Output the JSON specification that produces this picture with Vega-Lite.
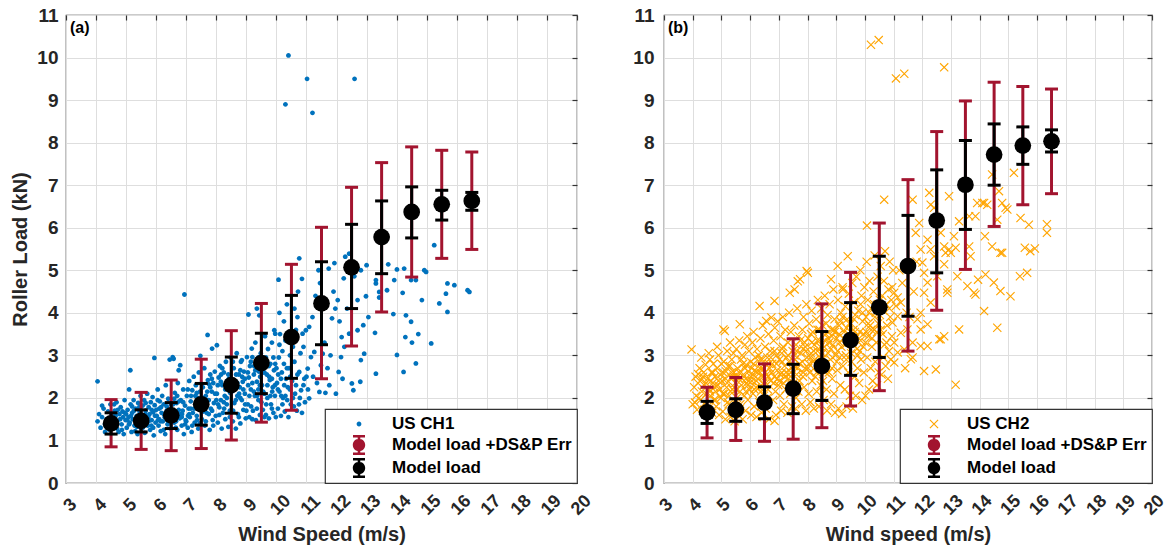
{
 "$schema": "https://vega.github.io/schema/vega-lite/v6.json",
 "background": "white",
 "padding": {"left": 10, "top": 5, "right": 6, "bottom": 2},
 "config": {
  "font": "Liberation Sans",
  "view": {"stroke": "#333333", "strokeWidth": 1.2},
  "axis": {"labelFont": "Liberation Sans", "labelFontWeight": "bold", "labelColor": "#262626", "titleFont": "Liberation Sans", "titleFontWeight": "bold", "titleColor": "#262626", "titleFontSize": 20, "gridColor": "#dedede", "gridWidth": 1, "domain": false, "labelFlush": false, "labelOverlap": false, "tickColor": "#333333", "tickWidth": 1.2},
  "legend": {"orient": "bottom-right", "offset": 0, "padding": 5, "strokeColor": "#333333", "strokeWidth": 1.2, "fillColor": "white", "labelFont": "Liberation Sans", "labelFontWeight": "bold", "labelFontSize": 17, "labelColor": "#000000", "labelLimit": 400, "symbolSize": 400, "symbolOffset": 19, "labelOffset": 23, "rowPadding": 3, "symbolStrokeWidth": 0}
 },
 "spacing": 87,
 "bounds": "flush",
 "resolve": {"scale": {"x": "independent", "y": "independent", "color": "independent", "shape": "independent"}, "legend": {"color": "independent", "shape": "independent"}},
 "datasets": {
  "modelA": [
   {"x":4.5,"m":1.40,"lo":0.85,"hi":1.96,"blo":1.15,"bhi":1.65},
   {"x":5.5,"m":1.46,"lo":0.79,"hi":2.13,"blo":1.20,"bhi":1.72},
   {"x":6.5,"m":1.59,"lo":0.76,"hi":2.42,"blo":1.28,"bhi":1.89},
   {"x":7.5,"m":1.85,"lo":0.81,"hi":2.91,"blo":1.36,"bhi":2.34},
   {"x":8.5,"m":2.30,"lo":1.01,"hi":3.58,"blo":1.64,"bhi":2.96},
   {"x":9.5,"m":2.82,"lo":1.43,"hi":4.22,"blo":2.10,"bhi":3.52},
   {"x":10.5,"m":3.43,"lo":1.71,"hi":5.14,"blo":2.46,"bhi":4.41},
   {"x":11.5,"m":4.22,"lo":2.45,"hi":6.01,"blo":3.25,"bhi":5.20},
   {"x":12.5,"m":5.07,"lo":3.22,"hi":6.95,"blo":4.10,"bhi":6.08},
   {"x":13.5,"m":5.78,"lo":4.02,"hi":7.53,"blo":4.92,"bhi":6.63},
   {"x":14.5,"m":6.37,"lo":4.84,"hi":7.90,"blo":5.76,"bhi":6.96},
   {"x":15.5,"m":6.55,"lo":5.28,"hi":7.82,"blo":6.18,"bhi":6.88},
   {"x":16.5,"m":6.63,"lo":5.49,"hi":7.78,"blo":6.41,"bhi":6.83}
  ],
  "modelB": [
   {"x":4.5,"m":1.66,"lo":1.06,"hi":2.25,"blo":1.40,"bhi":1.92},
   {"x":5.5,"m":1.72,"lo":1.00,"hi":2.48,"blo":1.45,"bhi":1.98},
   {"x":6.5,"m":1.89,"lo":0.98,"hi":2.80,"blo":1.51,"bhi":2.26},
   {"x":7.5,"m":2.22,"lo":1.03,"hi":3.39,"blo":1.63,"bhi":2.79},
   {"x":8.5,"m":2.75,"lo":1.30,"hi":4.21,"blo":1.94,"bhi":3.56},
   {"x":9.5,"m":3.36,"lo":1.81,"hi":4.95,"blo":2.53,"bhi":4.24},
   {"x":10.5,"m":4.13,"lo":2.17,"hi":6.11,"blo":2.95,"bhi":5.33},
   {"x":11.5,"m":5.10,"lo":3.10,"hi":7.13,"blo":3.92,"bhi":6.29},
   {"x":12.5,"m":6.17,"lo":4.06,"hi":8.26,"blo":4.94,"bhi":7.36},
   {"x":13.5,"m":7.01,"lo":5.02,"hi":8.98,"blo":5.96,"bhi":8.05},
   {"x":14.5,"m":7.72,"lo":6.03,"hi":9.42,"blo":7.00,"bhi":8.44},
   {"x":15.5,"m":7.93,"lo":6.54,"hi":9.32,"blo":7.49,"bhi":8.37},
   {"x":16.5,"m":8.03,"lo":6.80,"hi":9.26,"blo":7.78,"bhi":8.30}
  ],
  "scatterA": [
   {"x":4.05,"y":2.39},{"x":4.05,"y":1.45},{"x":4.1,"y":1.62},{"x":4.15,"y":1.3},{"x":4.2,"y":1.55},{"x":4.25,"y":1.75},{"x":4.3,"y":1.38},{"x":4.35,"y":1.5},{"x":4.4,"y":1.68},{"x":4.45,"y":1.25},{"x":4.48,"y":1.85},{"x":4.3,"y":1.2},{"x":4.2,"y":1.82},
   {"x":4.55,"y":1.52},{"x":4.6,"y":1.33},{"x":4.62,"y":1.7},{"x":4.68,"y":1.9},{"x":4.7,"y":1.45},{"x":4.75,"y":1.2},{"x":4.78,"y":1.62},{"x":4.82,"y":1.78},{"x":4.85,"y":1.38},{"x":4.9,"y":1.55},{"x":4.92,"y":1.15},{"x":4.95,"y":1.95},{"x":4.98,"y":1.48},{"x":4.88,"y":1.68},{"x":4.65,"y":1.58},
   {"x":5.02,"y":1.3},{"x":5.05,"y":1.72},{"x":5.08,"y":1.55},{"x":5.1,"y":2.2},{"x":5.12,"y":1.42},{"x":5.14,"y":2.65},{"x":5.15,"y":1.85},{"x":5.18,"y":1.2},{"x":5.2,"y":1.65},{"x":5.22,"y":1.5},{"x":5.25,"y":1.95},{"x":5.28,"y":1.35},{"x":5.32,"y":1.75},{"x":5.35,"y":1.58},{"x":5.38,"y":1.15},{"x":5.4,"y":1.88},{"x":5.42,"y":1.45},{"x":5.45,"y":1.68},{"x":5.48,"y":2.05},{"x":5.5,"y":1.28},
   {"x":5.52,"y":1.6},{"x":5.55,"y":1.82},{"x":5.58,"y":1.4},{"x":5.6,"y":1.95},{"x":5.62,"y":1.18},{"x":5.65,"y":1.7},{"x":5.68,"y":1.52},{"x":5.7,"y":2.1},{"x":5.72,"y":1.35},{"x":5.75,"y":1.78},{"x":5.78,"y":1.62},{"x":5.8,"y":1.25},{"x":5.82,"y":1.9},{"x":5.85,"y":1.48},{"x":5.88,"y":2.02},{"x":5.9,"y":1.66},{"x":5.92,"y":1.12},{"x":5.94,"y":2.94},{"x":5.95,"y":1.83},{"x":5.98,"y":1.42},{"x":5.6,"y":1.55},{"x":5.85,"y":1.72},
   {"x":6.02,"y":1.58},{"x":6.05,"y":2.2},{"x":6.08,"y":1.35},{"x":6.1,"y":1.75},{"x":6.12,"y":1.92},{"x":6.15,"y":1.22},{"x":6.18,"y":1.65},{"x":6.2,"y":2.05},{"x":6.22,"y":1.45},{"x":6.25,"y":1.85},{"x":6.28,"y":1.55},{"x":6.3,"y":1.15},{"x":6.32,"y":2.3},{"x":6.35,"y":1.7},{"x":6.38,"y":1.38},{"x":6.4,"y":1.98},{"x":6.42,"y":1.6},{"x":6.45,"y":2.9},{"x":6.48,"y":1.28},{"x":6.1,"y":1.5},{"x":6.35,"y":1.8},
   {"x":6.52,"y":1.72},{"x":6.55,"y":2.96},{"x":6.58,"y":2.92},{"x":6.6,"y":1.42},{"x":6.62,"y":2.12},{"x":6.65,"y":1.6},{"x":6.68,"y":1.88},{"x":6.7,"y":1.25},{"x":6.72,"y":2.35},{"x":6.75,"y":2.65},{"x":6.78,"y":1.52},{"x":6.8,"y":2.77},{"x":6.82,"y":1.95},{"x":6.85,"y":1.35},{"x":6.88,"y":1.7},{"x":6.9,"y":2.2},{"x":6.92,"y":1.15},{"x":6.94,"y":4.43},{"x":6.96,"y":1.82},{"x":6.98,"y":1.48},{"x":6.6,"y":1.98},{"x":6.8,"y":1.62},
   {"x":7.02,"y":2.05},{"x":7.05,"y":1.3},{"x":7.08,"y":1.75},{"x":7.1,"y":2.4},{"x":7.12,"y":1.55},{"x":7.15,"y":1.92},{"x":7.18,"y":1.2},{"x":7.2,"y":2.18},{"x":7.22,"y":1.65},{"x":7.25,"y":2.5},{"x":7.28,"y":1.42},{"x":7.3,"y":1.85},{"x":7.32,"y":2.3},{"x":7.35,"y":1.58},{"x":7.38,"y":2.0},{"x":7.4,"y":1.28},{"x":7.42,"y":2.6},{"x":7.45,"y":1.72},{"x":7.47,"y":2.99},{"x":7.48,"y":1.9},{"x":7.1,"y":1.62},{"x":7.35,"y":2.12},
   {"x":7.52,"y":1.5},{"x":7.55,"y":2.25},{"x":7.58,"y":1.82},{"x":7.6,"y":2.7},{"x":7.62,"y":1.35},{"x":7.65,"y":2.05},{"x":7.68,"y":1.65},{"x":7.71,"y":3.48},{"x":7.72,"y":2.42},{"x":7.75,"y":1.95},{"x":7.78,"y":1.25},{"x":7.8,"y":2.55},{"x":7.82,"y":1.75},{"x":7.85,"y":2.15},{"x":7.86,"y":3.16},{"x":7.88,"y":1.48},{"x":7.9,"y":2.35},{"x":7.92,"y":1.88},{"x":7.95,"y":2.62},{"x":7.98,"y":1.58},{"x":7.6,"y":2.0},{"x":7.8,"y":2.25},
   {"x":8.02,"y":3.24},{"x":8.02,"y":2.1},{"x":8.05,"y":1.42},{"x":8.08,"y":2.48},{"x":8.1,"y":1.78},{"x":8.12,"y":2.75},{"x":8.15,"y":1.95},{"x":8.18,"y":1.28},{"x":8.2,"y":2.3},{"x":8.22,"y":1.65},{"x":8.25,"y":2.6},{"x":8.28,"y":2.05},{"x":8.3,"y":1.5},{"x":8.32,"y":2.85},{"x":8.35,"y":1.85},{"x":8.38,"y":2.22},{"x":8.4,"y":1.32},{"x":8.42,"y":2.45},{"x":8.45,"y":1.7},{"x":8.48,"y":2.95},{"x":8.15,"y":2.38},{"x":8.35,"y":2.0},
   {"x":8.52,"y":2.15},{"x":8.55,"y":1.45},{"x":8.58,"y":2.7},{"x":8.6,"y":1.88},{"x":8.62,"y":2.4},{"x":8.65,"y":1.28},{"x":8.68,"y":3.05},{"x":8.7,"y":2.05},{"x":8.72,"y":1.62},{"x":8.75,"y":2.55},{"x":8.78,"y":2.25},{"x":8.8,"y":1.4},{"x":8.82,"y":2.85},{"x":8.85,"y":1.95},{"x":8.85,"y":2.89},{"x":8.88,"y":2.38},{"x":8.9,"y":1.72},{"x":8.92,"y":2.62},{"x":8.95,"y":2.1},{"x":8.98,"y":1.52},{"x":8.6,"y":2.2},{"x":8.8,"y":2.0},
   {"x":9.02,"y":2.96},{"x":9.05,"y":1.85},{"x":9.07,"y":3.96},{"x":9.08,"y":2.48},{"x":9.1,"y":1.55},{"x":9.12,"y":2.75},{"x":9.15,"y":2.2},{"x":9.18,"y":3.16},{"x":9.2,"y":2.96},{"x":9.22,"y":1.7},{"x":9.25,"y":2.55},{"x":9.28,"y":2.05},{"x":9.3,"y":3.3},{"x":9.32,"y":1.48},{"x":9.35,"y":2.38},{"x":9.35,"y":4.1},{"x":9.38,"y":2.85},{"x":9.4,"y":1.95},{"x":9.42,"y":2.62},{"x":9.43,"y":3.94},{"x":9.45,"y":1.6},{"x":9.48,"y":3.05},{"x":9.2,"y":2.35},{"x":9.4,"y":2.2},
   {"x":9.52,"y":2.3},{"x":9.55,"y":1.72},{"x":9.58,"y":2.9},{"x":9.6,"y":2.1},{"x":9.62,"y":3.45},{"x":9.65,"y":1.6},{"x":9.68,"y":2.55},{"x":9.7,"y":2.0},{"x":9.72,"y":3.15},{"x":9.75,"y":1.52},{"x":9.78,"y":2.42},{"x":9.8,"y":2.8},{"x":9.82,"y":1.85},{"x":9.85,"y":3.3},{"x":9.88,"y":2.25},{"x":9.9,"y":1.65},{"x":9.92,"y":2.65},{"x":9.93,"y":3.59},{"x":9.95,"y":2.05},{"x":9.96,"y":3.51},{"x":9.98,"y":1.55},{"x":9.6,"y":2.6},{"x":9.85,"y":2.45},
   {"x":10.02,"y":2.35},{"x":10.05,"y":1.75},{"x":10.07,"y":4.78},{"x":10.08,"y":2.95},{"x":10.1,"y":2.15},{"x":10.12,"y":3.5},{"x":10.15,"y":1.58},{"x":10.18,"y":2.6},{"x":10.2,"y":3.1},{"x":10.22,"y":2.0},{"x":10.25,"y":2.8},{"x":10.28,"y":1.68},{"x":10.3,"y":3.35},{"x":10.3,"y":8.9},{"x":10.32,"y":2.45},{"x":10.35,"y":4.2},{"x":10.38,"y":2.25},{"x":10.4,"y":10.05},{"x":10.4,"y":1.55},{"x":10.42,"y":2.7},{"x":10.45,"y":3.0},{"x":10.48,"y":1.85},{"x":10.1,"y":4.0},{"x":10.25,"y":3.8},
   {"x":10.52,"y":2.4},{"x":10.55,"y":3.2},{"x":10.58,"y":1.8},{"x":10.6,"y":2.85},{"x":10.62,"y":2.1},{"x":10.65,"y":3.6},{"x":10.68,"y":1.7},{"x":10.7,"y":2.55},{"x":10.72,"y":4.5},{"x":10.76,"y":5.28},{"x":10.76,"y":2.61},{"x":10.78,"y":2.0},{"x":10.8,"y":3.05},{"x":10.82,"y":2.18},{"x":10.85,"y":1.65},{"x":10.87,"y":3.51},{"x":10.9,"y":2.3},{"x":10.93,"y":2.45},{"x":10.95,"y":1.9},{"x":10.98,"y":3.59},{"x":10.6,"y":4.1},{"x":10.85,"y":4.8},
   {"x":11.02,"y":9.5},{"x":11.04,"y":2.69},{"x":11.05,"y":2.2},{"x":11.09,"y":3.67},{"x":11.09,"y":1.99},{"x":11.15,"y":2.96},{"x":11.2,"y":8.7},{"x":11.22,"y":2.5},{"x":11.26,"y":3.08},{"x":11.3,"y":4.4},{"x":11.35,"y":2.35},{"x":11.4,"y":5.0},{"x":11.43,"y":2.14},{"x":11.48,"y":2.77},{"x":11.54,"y":3.04},{"x":11.2,"y":3.9},{"x":11.45,"y":4.7},
   {"x":11.63,"y":2.12},{"x":11.74,"y":5.04},{"x":11.76,"y":2.3},{"x":11.85,"y":3.87},{"x":11.93,"y":5.17},{"x":11.96,"y":4.1},{"x":11.98,"y":2.1},{"x":11.6,"y":3.3},{"x":11.7,"y":2.7},{"x":11.9,"y":4.5},{"x":11.8,"y":3.0},
   {"x":12.04,"y":4.3},{"x":12.07,"y":2.61},{"x":12.15,"y":2.96},{"x":12.17,"y":3.43},{"x":12.2,"y":2.45},{"x":12.24,"y":4.81},{"x":12.26,"y":3.2},{"x":12.29,"y":5.32},{"x":12.42,"y":3.51},{"x":12.42,"y":5.39},{"x":12.35,"y":4.1},{"x":12.1,"y":3.8},
   {"x":12.51,"y":2.34},{"x":12.56,"y":2.18},{"x":12.59,"y":4.86},{"x":12.6,"y":9.5},{"x":12.7,"y":3.59},{"x":12.79,"y":2.38},{"x":12.81,"y":5.0},{"x":12.81,"y":2.89},{"x":12.89,"y":3.71},{"x":12.92,"y":3.04},{"x":12.98,"y":4.39},{"x":13.0,"y":5.12},{"x":12.7,"y":4.3},
   {"x":13.06,"y":3.9},{"x":13.28,"y":3.53},{"x":13.31,"y":4.77},{"x":13.31,"y":4.69},{"x":13.31,"y":2.57},{"x":13.42,"y":4.49},{"x":13.42,"y":4.36},{"x":13.68,"y":4.53},{"x":13.72,"y":5.14},{"x":13.89,"y":3.97},{"x":13.92,"y":4.77},
   {"x":14.01,"y":5.02},{"x":14.01,"y":3.01},{"x":14.2,"y":4.47},{"x":14.23,"y":2.61},{"x":14.25,"y":5.04},{"x":14.29,"y":3.43},{"x":14.31,"y":3.94},{"x":14.48,"y":4.77},{"x":14.48,"y":3.79},{"x":14.51,"y":3.3},{"x":14.64,"y":4.77},{"x":14.64,"y":2.81},{"x":14.72,"y":3.5},{"x":14.84,"y":4.3},{"x":14.92,"y":5.0},{"x":14.98,"y":4.96},
   {"x":15.15,"y":3.28},{"x":15.25,"y":5.59},{"x":15.42,"y":4.22},{"x":15.64,"y":4.45},{"x":15.69,"y":4.69},{"x":15.69,"y":4.02},{"x":15.92,"y":4.65},{"x":16.36,"y":4.53},{"x":16.42,"y":4.49},
   {"x":4.4,"y":1.4},{"x":4.6,"y":1.85},{"x":4.7,"y":1.28},{"x":4.8,"y":1.5},{"x":5.0,"y":1.62},{"x":5.1,"y":1.38},{"x":5.2,"y":1.8},{"x":5.3,"y":1.22},{"x":5.45,"y":1.55},{"x":5.55,"y":1.3},{"x":5.65,"y":1.88},{"x":5.75,"y":1.45},{"x":5.9,"y":1.3},{"x":6.0,"y":1.72},{"x":6.05,"y":1.95},{"x":6.15,"y":1.45},{"x":6.25,"y":1.25},{"x":6.3,"y":1.62},{"x":6.4,"y":1.4},{"x":6.5,"y":1.85},{"x":6.55,"y":1.55},{"x":6.65,"y":1.3},{"x":6.7,"y":2.05},{"x":6.75,"y":1.72},{"x":6.85,"y":1.55},{"x":6.9,"y":1.9},{"x":7.0,"y":1.45},{"x":7.05,"y":2.2},{"x":7.15,"y":1.75},{"x":7.2,"y":1.35},{"x":7.3,"y":2.05},{"x":7.4,"y":1.8},{"x":7.45,"y":1.4},{"x":7.55,"y":1.95},{"x":7.65,"y":1.45},{"x":7.7,"y":2.15},{"x":7.75,"y":1.62},{"x":7.85,"y":2.45},{"x":7.9,"y":1.35},{"x":8.0,"y":1.95},{"x":8.05,"y":2.3},{"x":8.1,"y":1.6},{"x":8.2,"y":2.7},{"x":8.25,"y":1.9},{"x":8.3,"y":2.2},{"x":8.4,"y":2.55},{"x":8.45,"y":1.55},{"x":8.5,"y":2.3},{"x":8.55,"y":2.85},{"x":8.65,"y":1.95},{"x":8.7,"y":2.35},{"x":8.75,"y":1.55},{"x":8.8,"y":2.65},{"x":8.9,"y":2.2},{"x":8.95,"y":2.45},{"x":9.0,"y":1.7},{"x":9.05,"y":2.6},{"x":9.1,"y":2.05},{"x":9.15,"y":2.85},{"x":9.2,"y":1.5},{"x":9.25,"y":2.15},{"x":9.3,"y":2.65},{"x":9.35,"y":1.75},{"x":9.4,"y":2.95},{"x":9.45,"y":2.3},{"x":9.5,"y":1.9},{"x":9.55,"y":2.6},{"x":9.6,"y":1.55},{"x":9.65,"y":2.95},{"x":9.7,"y":2.3},{"x":9.75,"y":2.75},{"x":9.8,"y":2.05},{"x":9.85,"y":1.75},{"x":9.9,"y":2.95},{"x":9.95,"y":2.3},{"x":10.0,"y":2.7},{"x":10.05,"y":2.2},{"x":10.1,"y":3.25},{"x":10.15,"y":2.45},{"x":10.2,"y":1.85},{"x":10.3,"y":2.05},{"x":10.35,"y":2.7},{"x":10.45,"y":2.2},{"x":10.5,"y":3.3},{"x":10.55,"y":2.0},{"x":10.65,"y":2.3},{"x":10.7,"y":3.9},{"x":10.75,"y":1.85},{"x":10.9,"y":3.2},{"x":11.0,"y":2.5},
   {"x":4.52,"y":1.62},{"x":4.58,"y":1.42},{"x":4.72,"y":1.72},{"x":4.86,"y":1.25},{"x":4.96,"y":1.65},{"x":5.04,"y":1.48},{"x":5.16,"y":1.58},{"x":5.26,"y":1.7},{"x":5.36,"y":1.32},{"x":5.44,"y":1.78},{"x":5.54,"y":1.48},{"x":5.64,"y":1.62},{"x":5.74,"y":1.55},{"x":5.84,"y":1.35},{"x":5.96,"y":1.58},{"x":6.06,"y":1.48},{"x":6.16,"y":1.78},{"x":6.26,"y":1.62},{"x":6.36,"y":1.52},{"x":6.46,"y":1.72},{"x":6.56,"y":1.85},{"x":6.66,"y":1.45},{"x":6.76,"y":1.92},{"x":6.86,"y":1.62},{"x":6.96,"y":1.38},{"x":7.06,"y":1.58},{"x":7.16,"y":2.05},{"x":7.26,"y":1.75},{"x":7.36,"y":1.48},{"x":7.46,"y":2.15},{"x":7.56,"y":1.68},{"x":7.66,"y":1.85},{"x":7.76,"y":2.32},{"x":7.86,"y":1.7},{"x":7.96,"y":2.1},{"x":8.06,"y":1.85},{"x":8.16,"y":2.55},{"x":8.26,"y":1.75},{"x":8.36,"y":2.4},{"x":8.46,"y":2.12},{"x":8.56,"y":1.7},{"x":8.66,"y":2.55},{"x":8.76,"y":2.1},{"x":8.86,"y":2.5},{"x":8.96,"y":1.85},{"x":9.06,"y":2.3},{"x":9.16,"y":1.8},{"x":9.26,"y":2.75},{"x":9.36,"y":2.05},{"x":9.46,"y":2.5},{"x":9.56,"y":2.15},{"x":9.66,"y":1.85},{"x":9.76,"y":2.5},{"x":9.86,"y":2.15},{"x":9.96,"y":2.8},{"x":10.06,"y":2.55},{"x":10.16,"y":2.05},{"x":10.26,"y":2.3},{"x":10.36,"y":1.95},{"x":10.46,"y":2.5}
  ],
  "scatterB": [
   {"x":3.96,"y":3.14},{"x":4.0,"y":1.85},{"x":4.05,"y":2.25},{"x":4.08,"y":1.89},{"x":4.1,"y":2.5},{"x":4.12,"y":2.05},{"x":4.15,"y":1.72},{"x":4.18,"y":2.35},{"x":4.19,"y":2.56},{"x":4.22,"y":2.0},{"x":4.24,"y":2.7},
   {"x":4.27,"y":1.95},{"x":4.3,"y":2.42},{"x":4.32,"y":2.15},{"x":4.35,"y":1.7},{"x":4.38,"y":2.6},{"x":4.4,"y":2.3},{"x":4.42,"y":1.88},{"x":4.45,"y":2.78},{"x":4.48,"y":2.1},{"x":4.3,"y":2.95},
   {"x":4.52,"y":2.45},{"x":4.55,"y":1.75},{"x":4.58,"y":2.2},{"x":4.6,"y":2.9},{"x":4.62,"y":2.05},{"x":4.65,"y":2.6},{"x":4.68,"y":1.65},{"x":4.7,"y":2.35},{"x":4.72,"y":2.8},{"x":4.74,"y":1.95},{"x":4.56,"y":3.05},
   {"x":4.77,"y":2.5},{"x":4.8,"y":2.15},{"x":4.82,"y":1.8},{"x":4.85,"y":2.7},{"x":4.88,"y":2.3},{"x":4.9,"y":3.0},{"x":4.92,"y":1.6},{"x":4.95,"y":2.55},{"x":4.98,"y":2.0},{"x":4.85,"y":3.2},
   {"x":5.02,"y":2.4},{"x":5.05,"y":1.68},{"x":5.07,"y":3.61},{"x":5.08,"y":2.85},{"x":5.1,"y":2.1},{"x":5.12,"y":3.57},{"x":5.14,"y":1.5},{"x":5.16,"y":2.62},{"x":5.18,"y":2.25},{"x":5.2,"y":3.1},{"x":5.22,"y":1.9},{"x":5.24,"y":2.75},
   {"x":5.27,"y":2.05},{"x":5.3,"y":3.3},{"x":5.32,"y":1.55},{"x":5.34,"y":2.48},{"x":5.36,"y":2.9},{"x":5.38,"y":2.2},{"x":5.4,"y":1.78},{"x":5.42,"y":3.05},{"x":5.44,"y":2.6},{"x":5.46,"y":1.45},{"x":5.48,"y":2.35},{"x":5.3,"y":2.75},
   {"x":5.52,"y":3.15},{"x":5.54,"y":2.0},{"x":5.56,"y":2.7},{"x":5.58,"y":1.6},{"x":5.6,"y":2.45},{"x":5.62,"y":3.35},{"x":5.64,"y":3.73},{"x":5.65,"y":2.15},{"x":5.66,"y":1.85},{"x":5.68,"y":2.9},{"x":5.7,"y":2.3},{"x":5.72,"y":3.0},{"x":5.74,"y":1.5},
   {"x":5.77,"y":2.55},{"x":5.8,"y":2.05},{"x":5.82,"y":3.25},{"x":5.84,"y":1.7},{"x":5.86,"y":2.78},{"x":5.88,"y":2.35},{"x":5.9,"y":3.45},{"x":5.92,"y":1.95},{"x":5.94,"y":2.62},{"x":5.96,"y":3.1},{"x":5.98,"y":2.2},{"x":5.85,"y":2.45},
   {"x":6.02,"y":2.85},{"x":6.04,"y":1.6},{"x":6.06,"y":2.4},{"x":6.08,"y":3.3},{"x":6.1,"y":2.1},{"x":6.12,"y":3.55},{"x":6.14,"y":1.8},{"x":6.16,"y":2.65},{"x":6.18,"y":2.95},{"x":6.2,"y":2.25},{"x":6.22,"y":1.55},{"x":6.24,"y":3.15},{"x":6.1,"y":2.55},
   {"x":6.27,"y":2.45},{"x":6.3,"y":3.0},{"x":6.32,"y":1.9},{"x":6.33,"y":4.16},{"x":6.34,"y":2.7},{"x":6.36,"y":3.4},{"x":6.38,"y":2.15},{"x":6.4,"y":1.65},{"x":6.42,"y":2.9},{"x":6.44,"y":3.7},{"x":6.46,"y":2.35},{"x":6.48,"y":2.05},{"x":6.35,"y":2.6},
   {"x":6.52,"y":3.2},{"x":6.54,"y":1.75},{"x":6.56,"y":3.81},{"x":6.58,"y":2.55},{"x":6.6,"y":2.95},{"x":6.62,"y":2.2},{"x":6.64,"y":3.5},{"x":6.66,"y":1.5},{"x":6.68,"y":2.7},{"x":6.7,"y":3.1},{"x":6.72,"y":2.4},{"x":6.74,"y":3.89},{"x":6.6,"y":2.0},
   {"x":6.77,"y":2.8},{"x":6.8,"y":1.95},{"x":6.82,"y":3.35},{"x":6.84,"y":2.5},{"x":6.85,"y":4.28},{"x":6.86,"y":3.65},{"x":6.88,"y":2.15},{"x":6.9,"y":1.6},{"x":6.92,"y":3.0},{"x":6.94,"y":2.65},{"x":6.96,"y":3.8},{"x":6.98,"y":2.3},{"x":6.85,"y":1.46},
   {"x":7.02,"y":2.9},{"x":7.04,"y":2.05},{"x":7.06,"y":3.45},{"x":7.08,"y":1.7},{"x":7.1,"y":2.6},{"x":7.12,"y":3.15},{"x":7.14,"y":3.9},{"x":7.16,"y":2.35},{"x":7.18,"y":1.85},{"x":7.2,"y":2.75},{"x":7.22,"y":3.6},{"x":7.24,"y":2.2},{"x":7.1,"y":3.05},
   {"x":7.27,"y":2.95},{"x":7.3,"y":1.65},{"x":7.32,"y":3.3},{"x":7.34,"y":2.45},{"x":7.36,"y":4.0},{"x":7.38,"y":4.47},{"x":7.4,"y":2.1},{"x":7.42,"y":3.55},{"x":7.44,"y":2.7},{"x":7.46,"y":1.8},{"x":7.48,"y":3.1},{"x":7.35,"y":2.55},
   {"x":7.52,"y":2.35},{"x":7.54,"y":3.7},{"x":7.55,"y":4.55},{"x":7.56,"y":2.9},{"x":7.58,"y":1.75},{"x":7.6,"y":3.25},{"x":7.62,"y":2.55},{"x":7.64,"y":4.1},{"x":7.66,"y":4.74},{"x":7.68,"y":2.15},{"x":7.7,"y":3.45},{"x":7.72,"y":2.8},{"x":7.74,"y":4.79},{"x":7.6,"y":2.0},
   {"x":7.77,"y":3.05},{"x":7.8,"y":1.85},{"x":7.82,"y":3.6},{"x":7.84,"y":2.5},{"x":7.86,"y":3.9},{"x":7.88,"y":2.25},{"x":7.9,"y":3.3},{"x":7.92,"y":2.7},{"x":7.94,"y":1.7},{"x":7.96,"y":4.2},{"x":7.97,"y":4.98},{"x":7.98,"y":2.95},{"x":7.85,"y":3.15},
   {"x":8.01,"y":4.94},{"x":8.02,"y":3.4},{"x":8.04,"y":2.1},{"x":8.06,"y":3.75},{"x":8.08,"y":2.6},{"x":8.1,"y":1.9},{"x":8.12,"y":3.05},{"x":8.14,"y":4.05},{"x":8.16,"y":2.4},{"x":8.18,"y":3.55},{"x":8.2,"y":2.85},{"x":8.22,"y":1.75},{"x":8.24,"y":3.25},{"x":8.1,"y":2.95},
   {"x":8.27,"y":2.5},{"x":8.3,"y":3.85},{"x":8.32,"y":2.15},{"x":8.34,"y":3.35},{"x":8.36,"y":4.3},{"x":8.38,"y":2.75},{"x":8.4,"y":1.8},{"x":8.42,"y":3.6},{"x":8.44,"y":2.95},{"x":8.46,"y":2.3},{"x":8.48,"y":4.1},{"x":8.35,"y":3.1},
   {"x":8.52,"y":3.7},{"x":8.54,"y":2.4},{"x":8.56,"y":1.95},{"x":8.58,"y":3.2},{"x":8.6,"y":4.4},{"x":8.62,"y":2.8},{"x":8.64,"y":3.5},{"x":8.66,"y":2.2},{"x":8.68,"y":1.7},{"x":8.7,"y":3.95},{"x":8.72,"y":3.05},{"x":8.74,"y":2.6},{"x":8.6,"y":3.35},
   {"x":8.77,"y":4.2},{"x":8.8,"y":2.9},{"x":8.82,"y":4.79},{"x":8.82,"y":1.85},{"x":8.84,"y":3.6},{"x":8.86,"y":2.45},{"x":8.88,"y":3.25},{"x":8.9,"y":4.55},{"x":8.92,"y":2.1},{"x":8.94,"y":3.85},{"x":8.96,"y":1.65},{"x":8.98,"y":3.0},{"x":8.85,"y":3.45},
   {"x":9.02,"y":3.4},{"x":9.04,"y":2.65},{"x":9.05,"y":5.1},{"x":9.06,"y":4.3},{"x":9.08,"y":1.75},{"x":9.1,"y":3.7},{"x":9.12,"y":2.95},{"x":9.14,"y":2.3},{"x":9.16,"y":4.0},{"x":9.18,"y":3.2},{"x":9.2,"y":1.62},{"x":9.22,"y":4.6},{"x":9.23,"y":4.55},{"x":9.24,"y":2.75},{"x":9.1,"y":3.5},
   {"x":9.27,"y":3.55},{"x":9.3,"y":2.2},{"x":9.32,"y":4.15},{"x":9.34,"y":3.0},{"x":9.36,"y":1.8},{"x":9.38,"y":3.85},{"x":9.4,"y":5.33},{"x":9.42,"y":2.6},{"x":9.44,"y":4.45},{"x":9.46,"y":3.3},{"x":9.48,"y":2.05},{"x":9.35,"y":3.65},
   {"x":9.52,"y":3.75},{"x":9.54,"y":2.85},{"x":9.56,"y":4.7},{"x":9.58,"y":1.75},{"x":9.6,"y":3.4},{"x":9.62,"y":4.25},{"x":9.64,"y":2.5},{"x":9.66,"y":3.95},{"x":9.68,"y":2.05},{"x":9.7,"y":4.85},{"x":9.72,"y":3.15},{"x":9.74,"y":2.7},{"x":9.6,"y":3.6},
   {"x":9.77,"y":4.05},{"x":9.8,"y":2.35},{"x":9.82,"y":3.55},{"x":9.84,"y":5.0},{"x":9.86,"y":2.9},{"x":9.88,"y":4.4},{"x":9.9,"y":1.95},{"x":9.92,"y":3.8},{"x":9.94,"y":3.2},{"x":9.96,"y":2.6},{"x":9.98,"y":4.6},{"x":9.85,"y":3.35},
   {"x":10.02,"y":2.05},{"x":10.04,"y":3.9},{"x":10.06,"y":5.2},{"x":10.07,"y":6.05},{"x":10.08,"y":2.95},{"x":10.1,"y":4.3},{"x":10.12,"y":3.45},{"x":10.14,"y":2.2},{"x":10.16,"y":4.75},{"x":10.18,"y":3.7},{"x":10.2,"y":2.7},{"x":10.21,"y":10.3},{"x":10.22,"y":4.1},{"x":10.24,"y":3.2},
   {"x":10.27,"y":2.4},{"x":10.3,"y":4.5},{"x":10.32,"y":3.6},{"x":10.34,"y":5.35},{"x":10.36,"y":2.85},{"x":10.38,"y":4.0},{"x":10.4,"y":3.3},{"x":10.42,"y":2.3},{"x":10.44,"y":4.85},{"x":10.46,"y":3.75},{"x":10.48,"y":10.41},{"x":10.48,"y":2.6},
   {"x":10.52,"y":3.95},{"x":10.55,"y":5.1},{"x":10.58,"y":2.55},{"x":10.6,"y":4.4},{"x":10.62,"y":3.5},{"x":10.64,"y":2.95},{"x":10.66,"y":4.75},{"x":10.67,"y":6.66},{"x":10.68,"y":3.25},{"x":10.7,"y":5.45},{"x":10.72,"y":2.75},{"x":10.74,"y":4.2},
   {"x":10.77,"y":3.7},{"x":10.8,"y":2.45},{"x":10.82,"y":4.55},{"x":10.84,"y":3.1},{"x":10.86,"y":5.2},{"x":10.88,"y":3.9},{"x":10.9,"y":2.9},{"x":10.92,"y":4.3},{"x":10.94,"y":3.45},{"x":10.96,"y":3.77},{"x":10.98,"y":5.0},
   {"x":11.02,"y":4.47},{"x":11.02,"y":3.3},{"x":11.02,"y":2.83},{"x":11.08,"y":4.16},{"x":11.08,"y":9.51},{"x":11.14,"y":4.36},{"x":11.14,"y":3.92},{"x":11.14,"y":3.07},{"x":11.25,"y":4.24},{"x":11.25,"y":3.53},{"x":11.37,"y":3.14},{"x":11.37,"y":9.62},{"x":11.48,"y":3.61},{"x":11.2,"y":5.0},{"x":11.3,"y":4.7},{"x":11.4,"y":2.7},{"x":11.45,"y":4.0},
   {"x":11.6,"y":2.91},{"x":11.66,"y":6.66},{"x":11.66,"y":3.3},{"x":11.66,"y":2.95},{"x":11.77,"y":5.88},{"x":11.83,"y":3.85},{"x":11.89,"y":6.11},{"x":11.94,"y":5.49},{"x":11.94,"y":4.0},{"x":11.94,"y":3.61},{"x":11.94,"y":3.22},{"x":11.55,"y":3.9},{"x":11.7,"y":4.5},{"x":11.8,"y":5.2},
   {"x":12.0,"y":5.18},{"x":12.06,"y":4.94},{"x":12.06,"y":4.47},{"x":12.06,"y":2.63},{"x":12.18,"y":4.71},{"x":12.18,"y":3.73},{"x":12.18,"y":3.22},{"x":12.18,"y":5.72},{"x":12.24,"y":6.82},{"x":12.29,"y":6.54},{"x":12.29,"y":5.49},{"x":12.29,"y":4.24},{"x":12.41,"y":6.47},{"x":12.41,"y":5.33},{"x":12.47,"y":2.67},{"x":12.52,"y":4.86},
   {"x":12.59,"y":3.38},{"x":12.64,"y":5.88},{"x":12.64,"y":3.38},{"x":12.76,"y":9.77},{"x":12.76,"y":5.56},{"x":12.76,"y":5.14},{"x":12.76,"y":3.45},{"x":12.81,"y":5.41},{"x":12.87,"y":4.55},{"x":12.87,"y":4.47},{"x":12.93,"y":6.74},{"x":12.93,"y":5.49},{"x":12.99,"y":5.41},
   {"x":13.1,"y":5.8},{"x":13.16,"y":5.53},{"x":13.16,"y":2.31},{"x":13.22,"y":4.86},{"x":13.28,"y":6.15},{"x":13.28,"y":3.61},{"x":13.57,"y":4.63},{"x":13.63,"y":6.27},{"x":13.63,"y":5.56},{"x":13.68,"y":5.33},{"x":13.8,"y":4.47},{"x":13.85,"y":6.27},{"x":13.85,"y":4.43},{"x":13.91,"y":6.58},{"x":13.94,"y":4.78},
   {"x":14.09,"y":6.58},{"x":14.15,"y":6.58},{"x":14.15,"y":4.04},{"x":14.18,"y":5.8},{"x":14.2,"y":4.9},{"x":14.26,"y":6.54},{"x":14.43,"y":7.25},{"x":14.43,"y":5.56},{"x":14.49,"y":4.71},{"x":14.61,"y":6.19},{"x":14.61,"y":3.65},{"x":14.67,"y":6.86},{"x":14.72,"y":5.41},{"x":14.72,"y":4.51},{"x":14.78,"y":6.58},{"x":14.78,"y":5.41},{"x":14.9,"y":6.47},{"x":14.96,"y":6.43},
   {"x":15.07,"y":4.39},{"x":15.19,"y":7.29},{"x":15.4,"y":4.86},{"x":15.42,"y":6.23},{"x":15.57,"y":5.53},{"x":15.65,"y":4.94},{"x":15.71,"y":6.07},{"x":15.76,"y":5.45},{"x":15.92,"y":5.51},{"x":16.34,"y":6.08},{"x":16.34,"y":5.88},
   {"x":4.6,"y":2.15},{"x":4.7,"y":2.6},{"x":4.8,"y":1.95},{"x":4.9,"y":2.4},{"x":5.0,"y":2.8},{"x":5.05,"y":2.1},{"x":5.15,"y":2.45},{"x":5.25,"y":1.85},{"x":5.35,"y":2.6},{"x":5.45,"y":2.25},{"x":5.55,"y":2.5},{"x":5.65,"y":1.75},{"x":5.75,"y":2.8},{"x":5.85,"y":2.15},{"x":5.95,"y":2.4},{"x":6.05,"y":2.7},{"x":6.15,"y":2.2},{"x":6.25,"y":2.6},{"x":6.35,"y":2.9},{"x":6.45,"y":2.5},{"x":6.55,"y":2.35},{"x":6.65,"y":2.8},{"x":6.75,"y":2.6},{"x":6.85,"y":3.1},{"x":6.95,"y":2.45},{"x":7.05,"y":2.55},{"x":7.15,"y":3.2},{"x":7.25,"y":2.6},{"x":7.35,"y":2.85},{"x":7.45,"y":2.3},{"x":7.55,"y":3.0},{"x":7.65,"y":2.7},{"x":7.75,"y":3.35},{"x":7.85,"y":2.6},{"x":7.95,"y":3.1},{"x":8.05,"y":2.8},{"x":8.15,"y":3.3},{"x":8.25,"y":2.9},{"x":8.35,"y":3.6},{"x":8.45,"y":3.2},{"x":8.55,"y":2.95},{"x":8.65,"y":3.75},{"x":8.75,"y":3.3},{"x":8.85,"y":2.7},{"x":8.95,"y":3.55},{"x":9.05,"y":3.1},{"x":9.15,"y":3.8},{"x":9.25,"y":3.4},{"x":9.35,"y":2.9},{"x":9.45,"y":3.75},{"x":9.55,"y":3.3},{"x":9.65,"y":3.55},{"x":9.75,"y":3.0},{"x":9.85,"y":4.2},{"x":9.95,"y":3.5},{"x":10.05,"y":3.55},{"x":10.15,"y":4.0},{"x":10.25,"y":3.4},{"x":10.35,"y":3.9},{"x":10.45,"y":4.2},{"x":10.55,"y":3.6},{"x":10.65,"y":4.05},{"x":10.75,"y":3.3},{"x":10.85,"y":4.1},{"x":10.95,"y":4.6},
   {"x":4.36,"y":2.5},{"x":4.46,"y":2.35},{"x":4.64,"y":2.4},{"x":4.76,"y":2.25},{"x":4.94,"y":2.2},{"x":5.06,"y":2.6},{"x":5.2,"y":2.35},{"x":5.32,"y":2.15},{"x":5.42,"y":2.5},{"x":5.52,"y":2.2},{"x":5.62,"y":2.6},{"x":5.72,"y":2.45},{"x":5.82,"y":2.7},{"x":5.92,"y":2.3},{"x":6.02,"y":2.5},{"x":6.12,"y":2.8},{"x":6.22,"y":2.4},{"x":6.32,"y":2.25},{"x":6.42,"y":2.7},{"x":6.52,"y":2.6},{"x":6.62,"y":2.5},{"x":6.72,"y":2.95},{"x":6.82,"y":2.35},{"x":6.92,"y":2.8},{"x":7.02,"y":2.4},{"x":7.12,"y":2.85},{"x":7.22,"y":2.5},{"x":7.32,"y":3.0},{"x":7.42,"y":2.6},{"x":7.52,"y":2.75},{"x":7.62,"y":3.1},{"x":7.72,"y":2.4},{"x":7.82,"y":2.85},{"x":7.92,"y":3.2},{"x":8.02,"y":2.7},{"x":8.12,"y":3.5},{"x":8.22,"y":3.1},{"x":8.32,"y":2.6},{"x":8.42,"y":3.35},{"x":8.52,"y":3.05},{"x":8.62,"y":2.6},{"x":8.72,"y":3.4},{"x":8.82,"y":3.15},{"x":8.92,"y":3.6},{"x":9.02,"y":2.85},{"x":9.12,"y":3.3},{"x":9.22,"y":3.9},{"x":9.32,"y":3.25},{"x":9.42,"y":3.5},{"x":9.52,"y":3.05},{"x":9.62,"y":3.85},{"x":9.72,"y":3.45},{"x":9.82,"y":3.1},{"x":9.92,"y":4.0},{"x":10.02,"y":3.3},{"x":10.12,"y":3.75},{"x":10.22,"y":3.6},{"x":10.32,"y":4.2},{"x":10.42,"y":3.55},{"x":10.52,"y":4.3}
  ]
 },
 "hconcat": [
  {
   "width": 511, "height": 468,
   "resolve": {"axis": {"x": "independent", "y": "independent"}},
   "layer": [
    {"data": {"name": "scatterA"},
     "mark": {"type": "point", "filled": true, "size": 400, "opacity": 1},
     "encoding": {
      "x": {"field": "x", "type": "quantitative", "scale": {"domain": [3, 20], "nice": false, "zero": false},
        "axis": {"orient": "bottom", "values": [3,4,5,6,7,8,9,10,11,12,13,14,15,16,17,18,19,20], "grid": true, "ticks": false, "labelAngle": -45, "labelAlign": "center", "labelBaseline": "middle", "labelPadding": 22, "labelOffset": 4, "labelFontSize": 18, "title": "Wind Speed (m/s)", "titlePadding": 6}},
      "y": {"field": "y", "type": "quantitative", "scale": {"domain": [0, 11], "nice": false, "zero": false},
        "axis": {"orient": "left", "values": [0,1,2,3,4,5,6,7,8,9,10,11], "grid": true, "ticks": false, "labelPadding": 8, "labelFontSize": 19, "title": "Roller Load (kN)", "titlePadding": 6}},
      "color": {"datum": "US CH1", "type": "nominal", "scale": {"domain": ["US CH1", "Model load +DS&P Err", "Model load"], "range": ["#0072BD", "#A2142F", "#000000"]}, "legend": {"title": null}},
      "shape": {"datum": "US CH1", "type": "nominal", "scale": {"domain": ["US CH1", "Model load +DS&P Err", "Model load"], "range": ["M0.24,0A0.24,0.24 0 1,1 -0.24,0A0.24,0.24 0 1,1 0.24,0Z", "M-0.6,-1H0.6V-0.76H0.13V0.76H0.6V1H-0.6V0.76H-0.13V-0.76H-0.6ZM0.62,0A0.62,0.62 0 1,1 -0.62,0A0.62,0.62 0 1,1 0.62,0Z", "M-0.6,-1H0.6V-0.76H0.13V0.76H0.6V1H-0.6V0.76H-0.13V-0.76H-0.6ZM0.62,0A0.62,0.62 0 1,1 -0.62,0A0.62,0.62 0 1,1 0.62,0Z"]}, "legend": {"title": null}}
     }},
    {"data": {"name": "modelA"}, "mark": {"type": "rule", "color": "#A2142F", "strokeWidth": 3},
     "encoding": {"x": {"field": "x", "type": "quantitative", "axis": null}, "y": {"field": "lo", "type": "quantitative", "axis": null}, "y2": {"field": "hi"}}},
    {"data": {"name": "modelA"}, "mark": {"type": "tick", "orient": "horizontal", "size": 13, "thickness": 3, "color": "#A2142F", "opacity": 1},
     "encoding": {"x": {"field": "x", "type": "quantitative", "axis": null}, "y": {"field": "lo", "type": "quantitative", "axis": null}}},
    {"data": {"name": "modelA"}, "mark": {"type": "tick", "orient": "horizontal", "size": 13, "thickness": 3, "color": "#A2142F", "opacity": 1},
     "encoding": {"x": {"field": "x", "type": "quantitative", "axis": null}, "y": {"field": "hi", "type": "quantitative", "axis": null}}},
    {"data": {"name": "modelA"}, "mark": {"type": "rule", "color": "#000000", "strokeWidth": 3},
     "encoding": {"x": {"field": "x", "type": "quantitative", "axis": null}, "y": {"field": "blo", "type": "quantitative", "axis": null}, "y2": {"field": "bhi"}}},
    {"data": {"name": "modelA"}, "mark": {"type": "tick", "orient": "horizontal", "size": 13, "thickness": 3, "color": "#000000", "opacity": 1},
     "encoding": {"x": {"field": "x", "type": "quantitative", "axis": null}, "y": {"field": "blo", "type": "quantitative", "axis": null}}},
    {"data": {"name": "modelA"}, "mark": {"type": "tick", "orient": "horizontal", "size": 13, "thickness": 3, "color": "#000000", "opacity": 1},
     "encoding": {"x": {"field": "x", "type": "quantitative", "axis": null}, "y": {"field": "bhi", "type": "quantitative", "axis": null}}},
    {"data": {"name": "modelA"}, "mark": {"type": "circle", "size": 280, "color": "#000000", "opacity": 1},
     "encoding": {
      "x": {"field": "x", "type": "quantitative", "axis": {"orient": "top", "values": [3,4,5,6,7,8,9,10,11,12,13,14,15,16,17,18,19,20], "grid": false, "labels": false, "ticks": true, "tickSize": -5, "title": null}},
      "y": {"field": "m", "type": "quantitative", "axis": {"orient": "right", "values": [0,1,2,3,4,5,6,7,8,9,10,11], "grid": false, "labels": false, "ticks": true, "tickSize": -5, "title": null}}
     }},
    {"data": {"values": [{"t": "(a)"}]}, "mark": {"type": "text", "align": "left", "baseline": "top", "dx": 4, "dy": 5, "fontSize": 16, "fontWeight": "bold", "font": "Liberation Sans", "color": "#000000"},
     "encoding": {"x": {"datum": 3, "type": "quantitative", "axis": null}, "y": {"datum": 11, "type": "quantitative", "axis": null}, "text": {"field": "t"}}}
   ]
  },
  {
   "width": 488, "height": 468,
   "resolve": {"axis": {"x": "independent", "y": "independent"}},
   "layer": [
    {"data": {"name": "scatterB"},
     "mark": {"type": "point", "filled": true, "size": 400, "opacity": 1},
     "encoding": {
      "x": {"field": "x", "type": "quantitative", "scale": {"domain": [3, 20], "nice": false, "zero": false},
        "axis": {"orient": "bottom", "values": [3,4,5,6,7,8,9,10,11,12,13,14,15,16,17,18,19,20], "grid": true, "ticks": false, "labelAngle": -45, "labelAlign": "center", "labelBaseline": "middle", "labelPadding": 22, "labelOffset": 2, "labelFontSize": 18, "title": "Wind speed (m/s)", "titlePadding": 6}},
      "y": {"field": "y", "type": "quantitative", "scale": {"domain": [0, 11], "nice": false, "zero": false},
        "axis": {"orient": "left", "values": [0,1,2,3,4,5,6,7,8,9,10,11], "grid": true, "ticks": false, "labelPadding": 10, "labelFontSize": 19, "title": null}},
      "color": {"datum": "US CH2", "type": "nominal", "scale": {"domain": ["US CH2", "Model load +DS&P Err", "Model load"], "range": ["#FFA500", "#A2142F", "#000000"]}, "legend": {"title": null}},
      "shape": {"datum": "US CH2", "type": "nominal", "scale": {"domain": ["US CH2", "Model load +DS&P Err", "Model load"], "range": ["M-0.45,-0.37L-0.37,-0.45L0.45,0.37L0.37,0.45ZM0.45,-0.37L-0.37,0.45L-0.45,0.37L0.37,-0.45Z", "M-0.6,-1H0.6V-0.76H0.13V0.76H0.6V1H-0.6V0.76H-0.13V-0.76H-0.6ZM0.62,0A0.62,0.62 0 1,1 -0.62,0A0.62,0.62 0 1,1 0.62,0Z", "M-0.6,-1H0.6V-0.76H0.13V0.76H0.6V1H-0.6V0.76H-0.13V-0.76H-0.6ZM0.62,0A0.62,0.62 0 1,1 -0.62,0A0.62,0.62 0 1,1 0.62,0Z"]}, "legend": {"title": null}}
     }},
    {"data": {"name": "modelB"}, "mark": {"type": "rule", "color": "#A2142F", "strokeWidth": 3},
     "encoding": {"x": {"field": "x", "type": "quantitative", "axis": null}, "y": {"field": "lo", "type": "quantitative", "axis": null}, "y2": {"field": "hi"}}},
    {"data": {"name": "modelB"}, "mark": {"type": "tick", "orient": "horizontal", "size": 13, "thickness": 3, "color": "#A2142F", "opacity": 1},
     "encoding": {"x": {"field": "x", "type": "quantitative", "axis": null}, "y": {"field": "lo", "type": "quantitative", "axis": null}}},
    {"data": {"name": "modelB"}, "mark": {"type": "tick", "orient": "horizontal", "size": 13, "thickness": 3, "color": "#A2142F", "opacity": 1},
     "encoding": {"x": {"field": "x", "type": "quantitative", "axis": null}, "y": {"field": "hi", "type": "quantitative", "axis": null}}},
    {"data": {"name": "modelB"}, "mark": {"type": "rule", "color": "#000000", "strokeWidth": 3},
     "encoding": {"x": {"field": "x", "type": "quantitative", "axis": null}, "y": {"field": "blo", "type": "quantitative", "axis": null}, "y2": {"field": "bhi"}}},
    {"data": {"name": "modelB"}, "mark": {"type": "tick", "orient": "horizontal", "size": 13, "thickness": 3, "color": "#000000", "opacity": 1},
     "encoding": {"x": {"field": "x", "type": "quantitative", "axis": null}, "y": {"field": "blo", "type": "quantitative", "axis": null}}},
    {"data": {"name": "modelB"}, "mark": {"type": "tick", "orient": "horizontal", "size": 13, "thickness": 3, "color": "#000000", "opacity": 1},
     "encoding": {"x": {"field": "x", "type": "quantitative", "axis": null}, "y": {"field": "bhi", "type": "quantitative", "axis": null}}},
    {"data": {"name": "modelB"}, "mark": {"type": "circle", "size": 280, "color": "#000000", "opacity": 1},
     "encoding": {
      "x": {"field": "x", "type": "quantitative", "axis": {"orient": "top", "values": [3,4,5,6,7,8,9,10,11,12,13,14,15,16,17,18,19,20], "grid": false, "labels": false, "ticks": true, "tickSize": -5, "title": null}},
      "y": {"field": "m", "type": "quantitative", "axis": {"orient": "right", "values": [0,1,2,3,4,5,6,7,8,9,10,11], "grid": false, "labels": false, "ticks": true, "tickSize": -5, "title": null}}
     }},
    {"data": {"values": [{"t": "(b)"}]}, "mark": {"type": "text", "align": "left", "baseline": "top", "dx": 4, "dy": 5, "fontSize": 16, "fontWeight": "bold", "font": "Liberation Sans", "color": "#000000"},
     "encoding": {"x": {"datum": 3, "type": "quantitative", "axis": null}, "y": {"datum": 11, "type": "quantitative", "axis": null}, "text": {"field": "t"}}}
   ]
  }
 ]
}
